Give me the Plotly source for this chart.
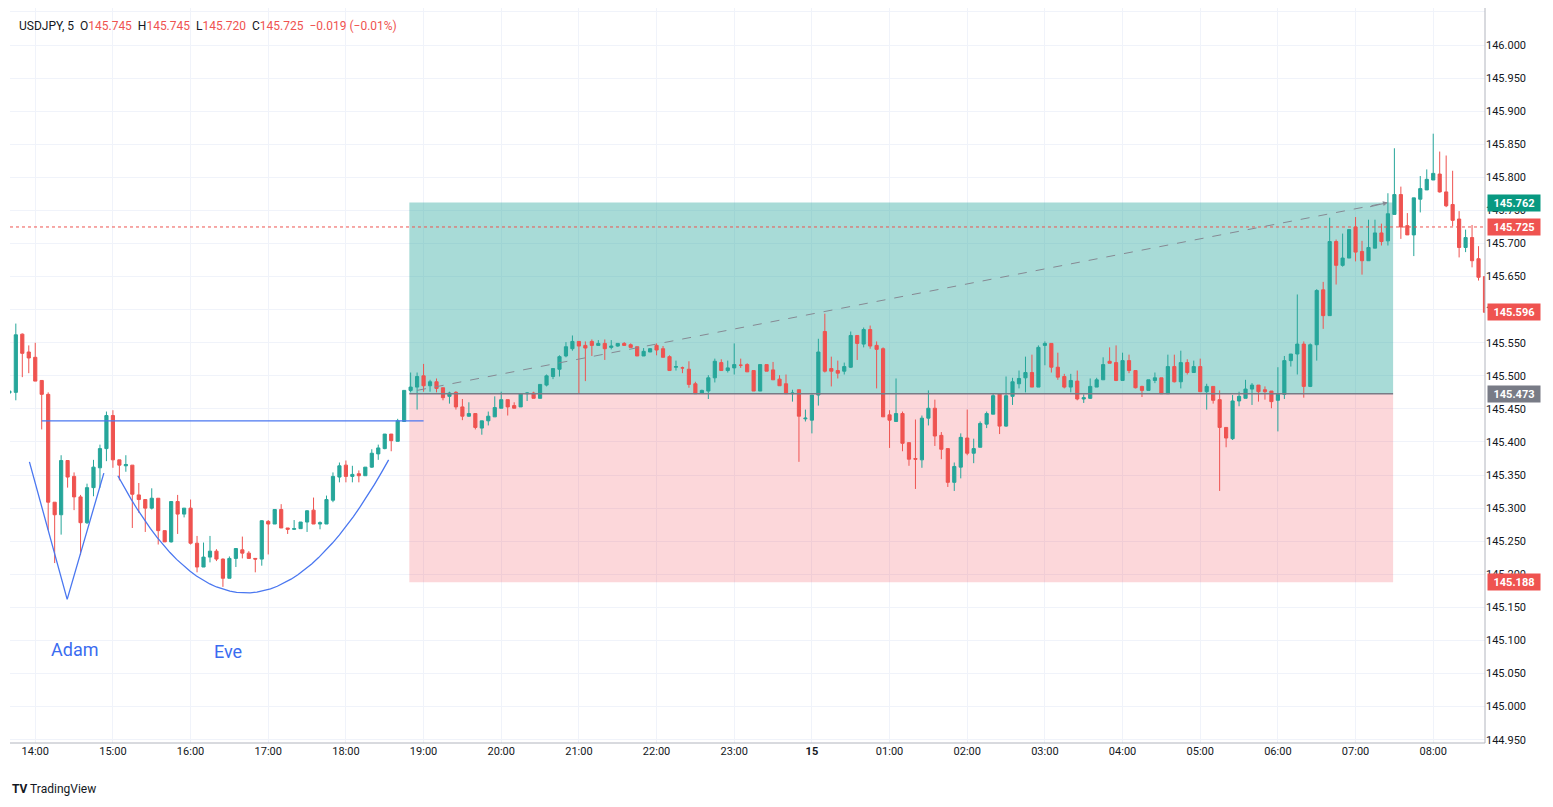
import plotly.graph_objects as go
import pandas as pd

opens = [145.474,145.475,145.563,145.536,145.528,145.493,145.472,145.309,145.290,145.372,145.348,
145.317,145.278,145.331,145.361,145.390,145.440,145.373,145.364,145.365,145.320,
145.313,145.300,145.315,145.266,145.249,145.310,145.291,145.300,145.247,145.211,
145.226,145.235,145.223,145.194,145.224,145.237,145.232,145.224,145.223,145.280,
145.276,145.298,145.270,145.268,145.269,145.279,145.297,145.276,145.276,145.312,
145.347,145.365,145.348,145.352,145.349,145.362,145.382,145.390,145.412,145.401,
145.431,145.478,145.483,145.500,145.485,145.491,145.482,145.469,145.475,145.453,
145.439,145.443,145.421,145.432,145.438,145.451,145.464,145.455,145.453,145.473,
145.474,145.466,145.486,145.499,145.510,145.530,145.541,145.552,145.546,145.552,
145.546,145.549,145.543,145.545,145.549,145.547,145.544,145.530,145.536,145.546,
145.541,145.529,145.513,145.512,145.510,145.488,145.474,145.477,145.497,145.520,
145.508,145.512,145.516,145.517,145.508,145.477,145.517,145.509,145.495,145.488,
145.473,145.479,145.435,145.433,145.471,145.567,145.511,145.508,145.507,145.513,
145.561,145.548,145.570,145.546,145.541,145.441,145.431,145.443,145.399,145.375,
145.373,145.436,145.451,145.410,145.390,145.339,145.362,145.406,145.383,145.392,
145.427,145.442,145.473,145.424,145.469,145.488,145.497,145.505,145.483,145.546,
145.549,145.513,145.499,145.483,145.492,145.465,145.466,145.483,145.494,145.522,
145.520,145.493,145.523,145.508,145.484,145.478,145.493,145.497,145.473,145.514,
145.491,145.520,145.505,145.514,145.476,145.484,145.464,145.422,145.405,145.462,
145.466,145.480,145.486,145.479,145.477,145.463,145.472,145.523,145.533,145.548,
145.484,145.547,145.630,145.591,145.703,145.667,145.678,145.725,145.688,145.674,
145.693,145.716,145.704,145.744,145.774,145.727,145.713,145.767,145.781,145.796,
145.805,145.778,145.759,145.737,145.694,145.709,145.677,145.650]
highs = [145.478,145.579,145.564,145.546,145.550,145.493,145.475,145.309,145.380,145.372,145.354,
145.320,145.337,145.373,145.396,145.446,145.448,145.373,145.380,145.365,145.338,
145.313,145.330,145.315,145.266,145.310,145.320,145.300,145.313,145.258,145.248,
145.258,145.238,145.224,145.227,145.239,145.257,145.235,145.224,145.282,145.282,
145.298,145.306,145.270,145.282,145.279,145.297,145.316,145.280,145.319,145.354,
145.369,145.372,145.364,145.357,145.362,145.389,145.396,145.412,145.412,145.435,
145.478,145.505,145.505,145.518,145.494,145.496,145.482,145.476,145.477,145.465,
145.460,145.443,145.432,145.446,145.469,145.476,145.464,145.460,145.474,145.475,
145.476,145.487,145.502,145.511,145.531,145.551,145.561,145.552,145.552,145.555,
145.554,145.555,145.554,145.549,145.551,145.549,145.544,145.542,145.542,145.549,
145.545,145.531,145.523,145.514,145.522,145.491,145.479,145.501,145.526,145.525,
145.523,145.549,145.526,145.519,145.508,145.517,145.517,145.521,145.501,145.502,
145.479,145.479,145.449,145.471,145.556,145.594,145.529,145.523,145.520,145.567,
145.561,145.573,145.576,145.552,145.543,145.448,145.496,145.446,145.399,145.434,
145.440,145.478,145.464,145.415,145.390,145.369,145.413,145.449,145.405,145.431,
145.446,145.473,145.474,145.499,145.497,145.508,145.529,145.532,145.546,145.552,
145.549,145.535,145.503,145.503,145.508,145.472,145.496,145.497,145.528,145.543,
145.546,145.535,145.532,145.508,145.485,145.494,145.505,145.497,145.532,145.532,
145.538,145.525,145.523,145.526,145.488,145.484,145.478,145.422,145.471,145.476,
145.494,145.489,145.486,145.484,145.477,145.513,145.530,145.533,145.623,145.552,
145.549,145.631,145.642,145.739,145.706,145.715,145.721,145.740,145.704,145.736,
145.736,145.730,145.776,145.844,145.786,145.746,145.769,145.802,145.812,145.866,
145.839,145.833,145.810,145.749,145.721,145.728,145.696,145.650]
lows = [145.472,145.463,145.498,145.504,145.492,145.419,145.267,145.217,145.260,145.331,145.297,
145.229,145.276,145.318,145.331,145.371,145.361,145.342,145.355,145.270,145.293,
145.264,145.298,145.245,145.249,145.248,145.261,145.286,145.245,145.203,145.211,
145.218,145.220,145.181,145.194,145.211,145.224,145.224,145.203,145.213,145.230,
145.276,145.270,145.261,145.267,145.269,145.264,145.276,145.268,145.276,145.309,
145.339,145.339,145.339,145.339,145.349,145.361,145.373,145.389,145.386,145.401,
145.431,145.475,145.449,145.476,145.476,145.475,145.463,145.458,145.449,145.433,
145.438,145.419,145.411,145.425,145.438,145.451,145.440,145.451,145.453,145.462,
145.466,145.466,145.484,145.495,145.499,145.528,145.538,145.474,145.492,145.530,
145.546,145.524,145.540,145.544,145.546,145.543,145.530,145.530,145.536,145.531,
145.528,145.508,145.508,145.504,145.482,145.473,145.473,145.465,145.490,145.508,
145.505,145.502,145.512,145.506,145.477,145.477,145.507,145.494,145.485,145.473,
145.461,145.370,145.431,145.413,145.455,145.505,145.484,145.496,145.502,145.512,
145.524,145.543,145.541,145.481,145.438,145.391,145.431,145.386,145.364,145.329,
145.361,145.425,145.394,145.374,145.332,145.326,145.345,145.380,145.368,145.392,
145.421,145.442,145.412,145.423,145.456,145.481,145.475,145.483,145.483,145.516,
145.505,145.494,145.481,145.475,145.463,145.459,145.465,145.483,145.494,145.519,
145.492,145.493,145.504,145.481,145.468,145.478,145.489,145.473,145.473,145.490,
145.481,145.502,145.505,145.476,145.449,145.458,145.326,145.392,145.403,145.454,
145.466,145.456,145.461,145.464,145.451,145.416,145.465,145.514,145.502,145.467,
145.483,145.523,145.571,145.591,145.638,145.665,145.678,145.673,145.653,145.674,
145.693,145.697,145.697,145.744,145.707,145.713,145.681,145.747,145.781,145.796,
145.777,145.755,145.726,145.679,145.687,145.664,145.644,145.596]
closes = [145.477,145.562,145.534,145.527,145.492,145.472,145.309,145.290,145.372,145.347,145.317,
145.278,145.331,145.362,145.390,145.440,145.373,145.365,145.366,145.321,145.313,
145.300,145.315,145.266,145.249,145.310,145.291,145.300,145.247,145.211,145.226,
145.235,145.223,145.194,145.224,145.239,145.232,145.224,145.223,145.281,145.276,
145.298,145.270,145.268,145.269,145.279,145.296,145.276,145.278,145.313,145.348,
145.364,145.348,145.351,145.349,145.362,145.383,145.391,145.412,145.402,145.432,
145.478,145.483,145.499,145.485,145.491,145.481,145.467,145.474,145.453,145.439,
145.443,145.422,145.432,145.439,145.452,145.464,145.453,145.451,145.473,145.474,
145.466,145.487,145.500,145.511,145.529,145.544,145.552,145.545,145.542,145.546,
145.549,145.541,145.545,145.549,145.546,145.543,145.530,145.537,145.541,145.539,
145.528,145.508,145.514,145.512,145.487,145.473,145.478,145.497,145.522,145.508,
145.512,145.517,145.516,145.506,145.477,145.517,145.507,145.494,145.485,145.473,
145.474,145.439,145.436,145.471,145.536,145.507,145.507,145.504,145.514,145.561,
145.549,145.570,145.545,145.540,145.438,145.433,145.443,145.398,145.374,145.374,
145.436,145.451,145.409,145.389,145.339,145.363,145.407,145.383,145.390,145.428,
145.443,145.470,145.424,145.470,145.491,145.496,145.505,145.483,145.543,145.549,
145.513,145.498,145.483,145.493,145.465,145.467,145.484,145.494,145.517,145.519,
145.493,145.523,145.508,145.482,145.478,145.494,145.497,145.473,145.514,145.491,
145.520,145.505,145.514,145.476,145.484,145.463,145.422,145.406,145.462,145.469,
145.480,145.486,145.476,145.476,145.461,145.472,145.523,145.533,145.548,145.484,
145.547,145.629,145.591,145.703,145.667,145.678,145.721,145.687,145.674,145.694,
145.716,145.703,145.745,145.774,145.725,145.713,145.769,145.783,145.797,145.806,
145.778,145.757,145.735,145.694,145.709,145.674,145.649,145.596]

times = pd.date_range("2023-08-14 13:40", periods=len(closes), freq="5min")

tick_vals = pd.date_range("2023-08-14 14:00", "2023-08-15 08:00", freq="1h")
tick_text = ["14:00","15:00","16:00","17:00","18:00","19:00","20:00","21:00","22:00","23:00",
             "<b>15</b>","01:00","02:00","03:00","04:00","05:00","06:00","07:00","08:00"]

UP, DN = "#26a69a", "#ef5350"

fig = go.Figure()
fig.add_trace(go.Candlestick(
    x=times, open=opens, high=highs, low=lows, close=closes,
    increasing=dict(line=dict(color=UP, width=1), fillcolor=UP),
    decreasing=dict(line=dict(color=DN, width=1), fillcolor=DN),
    whiskerwidth=0, showlegend=False, hoverinfo="skip"))

def T(s):
    return pd.Timestamp("2023-08-" + s)

# Eve curve (quadratic bezier annotation drawing)
t0 = T("14 13:40")
P0 = (83.8, 145.349); P1 = (183.6, 144.983); P2 = (293.0, 145.373)
cx, cy = [], []
for k in range(41):
    t = k / 40
    m = (1-t)**2*P0[0] + 2*(1-t)*t*P1[0] + t*t*P2[0]
    p = (1-t)**2*P0[1] + 2*(1-t)*t*P1[1] + t*t*P2[1]
    cx.append(t0 + pd.Timedelta(minutes=m)); cy.append(p)
fig.add_trace(go.Scatter(x=cx, y=cy, mode="lines", line=dict(color="#4a77f0", width=1.3),
                         showlegend=False, hoverinfo="skip"))
# Adam V
fig.add_trace(go.Scatter(x=[T("14 13:55:30"), T("14 14:24:40"), T("14 14:53:00")],
                         y=[145.370, 145.162, 145.353], mode="lines",
                         line=dict(color="#4a77f0", width=1.3), showlegend=False, hoverinfo="skip"))

shapes = [
    dict(type="rect", xref="x", yref="y", x0=T("14 18:49"), x1=T("15 07:29"), y0=145.473, y1=145.762,
         fillcolor="rgba(38,166,154,0.4)", line_width=0, layer="between"),
    dict(type="rect", xref="x", yref="y", x0=T("14 18:49"), x1=T("15 07:29"), y0=145.188, y1=145.473,
         fillcolor="rgba(242,54,69,0.2)", line_width=0, layer="between"),
    dict(type="line", xref="x", yref="y", x0=T("14 18:49"), x1=T("15 07:29"), y0=145.473, y1=145.473,
         line=dict(color="#787b86", width=1.5)),
    dict(type="line", xref="x", yref="y", x0=T("14 14:05"), x1=T("14 19:00"), y0=145.432, y1=145.432,
         line=dict(color="#4a77f0", width=1.3)),
    dict(type="line", xref="paper", yref="y", x0=0, x1=1, y0=145.725, y1=145.725,
         line=dict(color="#ef5350", width=1, dash="dot")),
    dict(type="line", xref="x", yref="y", x0=T("14 18:55"), x1=T("15 07:25"), y0=145.478, y1=145.762,
         line=dict(color="#868993", width=1, dash="dash")),
    dict(type="line", xref="paper", yref="paper", x0=1, x1=1, y0=0, y1=1, line=dict(color="#b2b5be", width=1)),
    dict(type="line", xref="paper", yref="paper", x0=0, x1=1, y0=0, y1=0, line=dict(color="#b2b5be", width=1)),
]

annotations = [
    dict(x=T("15 07:25"), y=145.762, ax=T("15 07:10"), ay=145.755, xref="x", yref="y", axref="x", ayref="y",
         showarrow=True, arrowhead=2, arrowcolor="#868993", arrowwidth=1, text=""),
    dict(x=T("14 14:30"), y=145.086, xref="x", yref="y", text="Adam", showarrow=False,
         font=dict(size=18, color="#3a6cf0", family="Roboto")),
    dict(x=T("14 16:29"), y=145.083, xref="x", yref="y", text="Eve", showarrow=False,
         font=dict(size=18, color="#3a6cf0", family="Roboto")),
    dict(x=0.005, y=0.975, xref="paper", yref="paper", xanchor="left", yanchor="middle", showarrow=False,
         font=dict(size=12, color="#131722", family="Roboto"),
         text="USDJPY, 5  O<span style='color:#ef5350'>145.745</span>  H<span style='color:#ef5350'>145.745</span>"
              "  L<span style='color:#ef5350'>145.720</span>  C<span style='color:#ef5350'>145.725</span>"
              "  <span style='color:#ef5350'>−0.019 (−0.01%)</span>"),
    dict(x=0, y=-0.063, xref="paper", yref="paper", xanchor="left", yanchor="middle", showarrow=False,
         text="<b>TV</b> TradingView", font=dict(size=12, color="#131722", family="Roboto")),
]
for val, col in [(145.762, "#089981"), (145.725, "#ef5350"), (145.596, "#ef5350"),
                 (145.473, "#787b86"), (145.188, "#ef5350")]:
    annotations.append(dict(x=1, y=val, xref="paper", yref="y", xanchor="left", yanchor="middle",
                            xshift=2, showarrow=False, text="<b>%.3f</b>" % val, bgcolor=col,
                            font=dict(size=11, color="white", family="Roboto"), width=50, height=14))

ytick_vals = [144.95 + 0.05*k for k in range(23)]
fig.update_layout(
    width=1545, height=799, margin=dict(l=2, r=68, t=0, b=64),
    paper_bgcolor="white", plot_bgcolor="white",
    shapes=shapes, annotations=annotations,
    xaxis=dict(range=[T("14 13:40:30"), T("15 08:40")], rangeslider=dict(visible=False),
               tickvals=tick_vals, ticktext=tick_text, showgrid=True, gridcolor="#f0f3fa",
               tickfont=dict(size=11, color="#131722", family="Roboto"), ticks="", zeroline=False),
    yaxis=dict(side="right", range=[144.945, 146.056], tickvals=ytick_vals, tickformat=".3f",
               showgrid=True, gridcolor="#f0f3fa", zeroline=False,
               tickfont=dict(size=11, color="#131722", family="Roboto")),
    font=dict(family="Roboto"),
)
fig.write_html("out.html")
